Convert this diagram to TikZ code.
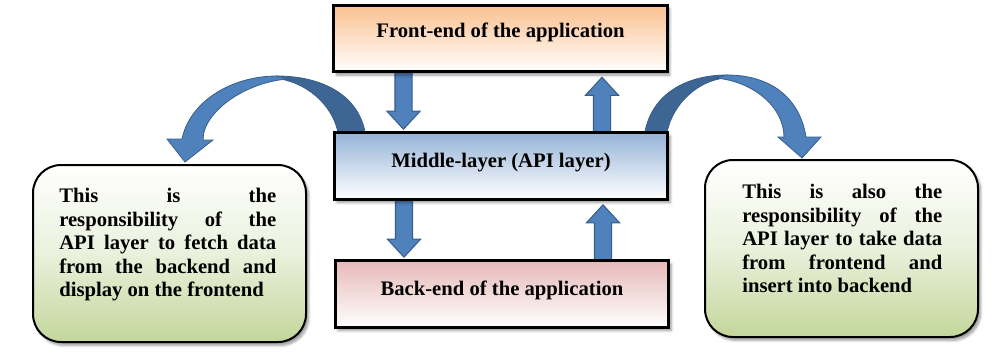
\documentclass[tikz,border=0pt]{standalone}
\usepackage{fontspec}
\setmainfont{Liberation Serif}
\usetikzlibrary{calc, positioning, shadows.blur}
\definecolor{blockblue}{HTML}{4F81BD}
\definecolor{blockedge}{HTML}{385D8A}
\definecolor{bandblue}{HTML}{3E6694}
\definecolor{fronttop}{HTML}{FAC08F}
\definecolor{midtop}{HTML}{95B3D7}
\definecolor{backtop}{HTML}{E6B9B8}
\definecolor{notegreen}{HTML}{C3D69B}
\pgfdeclarelayer{background}
\pgfsetlayers{background,main}
\newcommand{\blockarrow}[2]{%
  \draw[blockarr] let \p1=#1, \p2=#2, \n1={ifthenelse(\y2<\y1,-13.5,13.5)} in
    (\x1-6.4pt,\y1) -- (\x1-6.4pt,{\y2-\n1*1pt}) -- (\x1-12.4pt,{\y2-\n1*1pt}) -- (\x1,\y2)
    -- (\x1+12.4pt,{\y2-\n1*1pt}) -- (\x1+6.4pt,{\y2-\n1*1pt}) -- (\x1+6.4pt,\y1) -- cycle;}
\newcommand{\jline}[1]{\makebox[\linewidth][s]{#1}\\}

\begin{document}
\begin{tikzpicture}[x=0.75pt, y=-0.75pt,
      layerbox/.style={draw=black, line width=2.2pt, minimum width=250pt, minimum height=50pt,
                       font=\fontsize{15.5pt}{17.6pt}\selectfont\bfseries, text depth=8pt,
                       blur shadow={shadow xshift=2pt, shadow yshift=-2.5pt, shadow blur steps=6}},
      notebox/.style={draw=black, line width=1.5pt, rounded corners=21pt,
                      minimum width=204.75pt, minimum height=132.75pt,
                      top color=white, bottom color=notegreen, middle color=notegreen!35,
                      blur shadow={shadow xshift=2pt, shadow yshift=-2.5pt, shadow blur steps=6}},
      notetext/.style={font=\fontsize{15.5pt}{17.6pt}\selectfont\bfseries, inner sep=0pt,
                       anchor=north west, align=justify},
      blockarr/.style={fill=blockblue, draw=blockedge, line width=0.8pt},
      bandfront/.style={fill=blockblue, draw=blockedge, line width=0.6pt},
      bandback/.style={fill=bandblue, draw=blockedge, line width=0.6pt}
    ]
    \useasboundingbox (0,0) rectangle (996,358);
    \node[layerbox, top color=fronttop, bottom color=white, text depth=13pt] (front) at (500.5,38.5) {Front-end of the application};
    \node[layerbox, top color=midtop, bottom color=white] (mid) at (501,166) {Middle-layer (API layer)};
    \node[layerbox, top color=backtop, bottom color=white] (back) at (502,294) {Back-end of the application};
    \node[notebox] (lnote) at (169.5,253.5) {};
    \node[notebox] (rnote) at (841.5,248.5) {};
    \node[notetext, text width=162.75pt] (ltext) at ($(lnote.north west)+(27,24)$) {%
      \jline{This is the}
      \jline{responsibility of the}
      \jline{API layer to fetch data}
      \jline{from the backend and}
      display on the frontend};
    \node[notetext, text width=150pt] (rtext) at ($(rnote.north west)+(38,25)$) {%
      \jline{This is also the}
      \jline{responsibility of the}
      \jline{API layer to take data}
      \jline{from frontend and}
      insert into backend};
    \coordinate (ltop) at (277,76);
    \coordinate (rtop) at (727,75);
    \begin{pgfonlayer}{background}
      \blockarrow{($(front.south)+(-97,-4)$)}{($(mid.north)+(-97,-2)$)}
      \blockarrow{($(mid.north)+(101,4)$)}{($(front.south)+(101,4)$)}
      \blockarrow{($(mid.south)+(-97,-4)$)}{($(back.north)+(-97,-2)$)}
      \blockarrow{($(back.north)+(101,4)$)}{($(mid.south)+(101,4)$)}
      \draw[bandback] ($(mid.north west)+(33,6)$) .. controls +(-5,-42) and +(45,0) .. (ltop)
          -- ++(8,4) .. controls +(25,6) and +(-4,-30) .. ($(mid.north west)+(6,6)$) -- cycle;
      \draw[bandfront] (ltop) .. controls +(-45,0) and +(8,-38) .. ($(lnote.north)+(12.5,-25)$)
          -- ++(-15,0) -- ($(lnote.north)+(15.5,-2)$) -- ($(lnote.north)+(43.5,-24)$)
          -- ($(lnote.north)+(33.5,-24)$) .. controls +(0,-30) and +(-40,2) .. ($(ltop)+(12,3)$) -- cycle;
      \draw[bandback] ($(mid.north east)+(-25,6)$) .. controls +(5,-42) and +(-42,0) .. (rtop)
          -- ++(-8,4) .. controls +(-25,5) and +(4,-30) .. ($(mid.north east)+(-3,6)$) -- cycle;
      \draw[bandfront] (rtop) .. controls +(45,0) and +(-6,-38) .. ($(rnote.north)+(-35.5,-22)$)
          -- ++(15,0) -- ($(rnote.north)+(-39.5,-1)$) -- ($(rnote.north)+(-63.5,-22)$)
          -- ($(rnote.north)+(-57.5,-22)$) .. controls +(0,-30) and +(38,3) .. ($(rtop)+(-12,3)$) -- cycle;
    \end{pgfonlayer}
  \end{tikzpicture}
\end{document}
